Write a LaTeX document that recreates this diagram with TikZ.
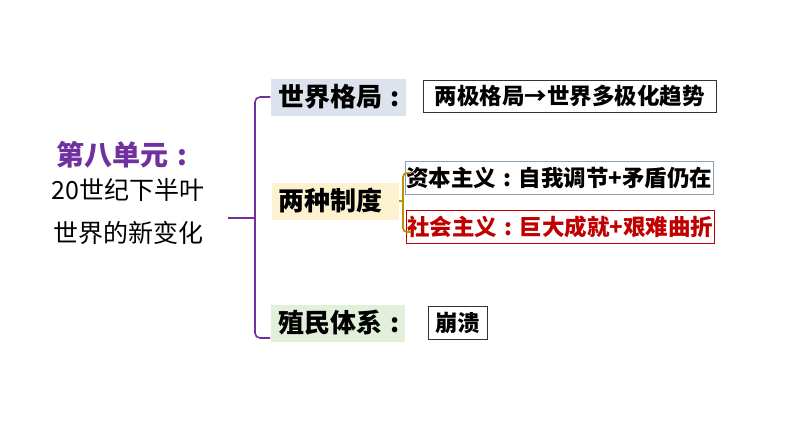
\documentclass[tikz,border=0pt]{standalone}
\usepackage{fontspec}
\setmainfont{Noto Sans CJK SC}
\newcommand{\cln}{\makebox[1em][c]{:}}
\begin{document}
\begin{tikzpicture}[x=1pt,y=-1pt,
  lbl/.style={anchor=west,inner sep=0pt,font=\bfseries\fontsize{26}{28}\selectfont},
  box/.style={draw,anchor=west,inner sep=1pt,font=\bfseries\fontsize{22.5}{24}\selectfont},
  bgbox/.style={anchor=center,inner sep=0pt,minimum height=37pt}]
\useasboundingbox (0,0) rectangle (794,447);
\definecolor{pur}{HTML}{7030A0}
\definecolor{gold}{HTML}{BF9000}
\definecolor{dred}{HTML}{C00000}
\node[font=\bfseries\fontsize{28}{30}\selectfont,text=pur] (t) at (126,155) {第八单元\cln};
\node[font=\fontsize{25}{28}\selectfont] (t2) at (128,190) {20世纪下半叶};
\node[font=\fontsize{25}{28}\selectfont] (t3) at (128,233) {世界的新变化};
\node[bgbox,fill={rgb,255:red,221;green,227;blue,238},minimum width=135pt] (a) at (338,97) {};
\node[lbl] at (278,97) {世界格局\cln};
\node[bgbox,fill={rgb,255:red,253;green,242;blue,208},minimum width=127pt] (b) at (335,201) {};
\node[lbl] at (278,201) {两种制度};
\node[bgbox,fill={rgb,255:red,226;green,239;blue,218},minimum width=134pt] (c) at (338,323) {};
\node[lbl] at (278,323) {殖民体系\cln};
\node[box,draw=black!80,minimum height=32pt,minimum width=293pt] (a1) at (423,96) {两极格局→世界多极化趋势};
\node[box,draw={rgb,255:red,140;green,160;blue,180},minimum height=33pt,minimum width=303pt] (b1) at (405,178) {资本主义\cln 自我调节+矛盾仍在};
\node[box,draw=dred,text=dred,minimum height=33pt,minimum width=304pt] (b2) at (406,227) {社会主义\cln 巨大成就+艰难曲折};
\node[box,draw=black!80,minimum height=33pt,minimum width=59pt] (c1) at (428,323) {崩溃};
\draw[pur,line width=1.6pt] (228,218) -- (255,218);
\draw[pur,line width=1.6pt,rounded corners=5pt] (a.west) -- (255,97) -- (255,338) -- (270,338);
\draw[gold,line width=1.8pt] (b.east) -- (404,201);
\draw[gold,line width=1.8pt,rounded corners=4pt] (411,173) -- (403,173) -- (403,232) -- (411,232);
\end{tikzpicture}
\end{document}
